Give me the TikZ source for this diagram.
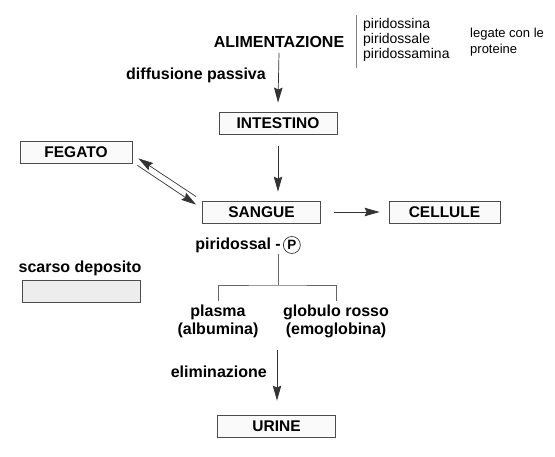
\documentclass[tikz,border=0pt]{standalone}
\usepackage{fontspec}
\setmainfont{Liberation Sans}
\usetikzlibrary{arrows.meta,positioning}

\begin{document}
\begin{tikzpicture}[x=1pt, y=-1pt,
    testo/.style={font=\fontsize{16}{18}\selectfont\bfseries, align=center, inner sep=1pt},
    nota/.style={font=\fontsize{14}{15}\selectfont, align=left, inner sep=0pt},
    organo/.style={draw=black!70, line width=0.8pt, fill=black!2, minimum width=118pt,
        minimum height=22pt, inner sep=0pt, font=\fontsize{15.5}{18}\selectfont\bfseries},
    freccia/.style={-{Stealth[length=15pt, width=8.5pt, inset=2pt]}, draw=black!80, line width=0.7pt},
    ramo/.style={draw=black!60, line width=0.7pt}]

    % Page frame
    \useasboundingbox (0,0) rectangle (555,457);

    % Intake and the three forms
    \node[testo] (alim) at (279,42) {ALIMENTAZIONE};
    \draw[black!50, line width=0.8pt] (356,15) -- (356,68);
    \node[nota, anchor=west] (forme) at (363,40) {piridossina\\piridossale\\piridossamina};
    \node[nota, font=\fontsize{13}{16}\selectfont, anchor=west] (proteine) at (470,42) {legate con le\\proteine};

    % Main column
    \node[organo] (intestino) at (278,123) {INTESTINO};
    \node[organo] (sangue) at (261.5,212) {SANGUE};
    \node[organo] (urine) at (276.5,426) {URINE};

    % Side boxes
    \node[organo, minimum width=112pt] (fegato) at (76,152) {FEGATO};
    \node[organo, minimum width=111pt] (cellule) at (444.5,212) {CELLULE};
    \node[testo] (scarso) at (80,268) {scarso deposito};
    \node[organo, fill=black!7] (deposito) at (81,291) {};

    % Labels on the arrows
    \node[testo, anchor=east] (diffusione) at (267,75) {diffusione passiva};
    \node[testo, anchor=east] (elimina) at (268,372) {eliminazione};

    % Bound form in blood
    \node[testo, anchor=east] (pal) at (282,245) {piridossal -};
    \node[draw=black!80, line width=0.7pt, circle, inner sep=1pt, minimum size=17pt,
        font=\fontsize{13.5}{14}\selectfont\bfseries, right=1pt of pal] (fosfato) {P};
    \node[testo] (plasma) at (218,321) {plasma\\(albumina)};
    \node[testo] (globulo) at (336,321) {globulo rosso\\(emoglobina)};
    \coordinate (nodo) at (278,285);
    \coordinate (uscita) at (277,350);

    % Arrows
    \draw[freccia] (alim.south) ++(0,4) -- ([yshift=9pt]intestino.north);
    \draw[freccia, shorten <=12pt, shorten >=9pt] (intestino.south) -- (sangue.north -| intestino.south);
    \draw[freccia, shorten <=13pt, shorten >=9pt] (sangue.east) -- (cellule.west);
    \draw[freccia] ([shift={(-6,-4)}]sangue.north west) -- ([shift={(6,-5)}]fegato.south east);
    \draw[freccia] ([shift={(5,2)}]fegato.south east) -- ([shift={(-6,4)}]sangue.north west);
    \draw[freccia] (uscita) -- ([yshift=14pt]urine.north -| uscita);

    % Split into plasma and red cells
    \draw[ramo] (nodo |- pal.south) -- (nodo);
    \draw[ramo] (plasma.north) ++(0,-2) |- (nodo) -| ([yshift=2pt]globulo.north);

\end{tikzpicture}
\end{document}
